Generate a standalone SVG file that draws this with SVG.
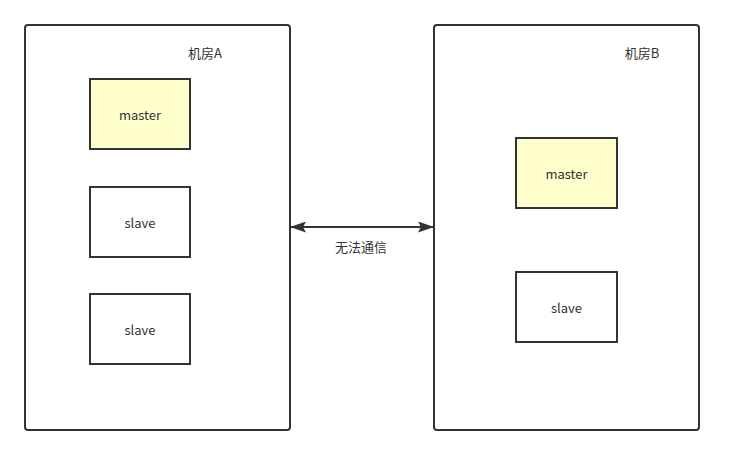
<svg xmlns="http://www.w3.org/2000/svg" width="747" height="455" viewBox="0 0 747 455">
  <defs>
    <style>
      .room { fill: #ffffff; stroke: #333333; stroke-width: 2; }
      .box { stroke: #333333; stroke-width: 2; }
      .master { fill: #ffffcc; }
      .slave { fill: #ffffff; }
      .label { font-family: "Noto Sans CJK SC", "Liberation Sans", sans-serif; font-size: 13px; fill: #333333; text-anchor: middle; }
      .link { stroke: #333333; stroke-width: 2; fill: none; }
    </style>
    <marker id="arrowhead" viewBox="0 0 16 11" refX="15" refY="5.5" markerWidth="16" markerHeight="11" orient="auto-start-reverse" markerUnits="userSpaceOnUse">
      <path d="M0,0 L16,5.5 L0,11 L3,5.5 Z" fill="#333333"/>
    </marker>
  </defs>
  <rect width="747" height="455" fill="#ffffff"/>

  <!-- data center A -->
  <g id="roomA">
    <rect class="room" x="25" y="25" width="265" height="405" rx="3" ry="3"/>
    <text class="label" x="205" y="58">机房A</text>
  </g>
  <g id="masterA">
    <rect class="box master" x="90" y="79" width="100" height="70"/>
    <text class="label" x="140" y="119.5">master</text>
  </g>
  <g id="slaveA1">
    <rect class="box slave" x="90" y="187" width="100" height="70"/>
    <text class="label" x="140" y="227.5">slave</text>
  </g>
  <g id="slaveA2">
    <rect class="box slave" x="90" y="294" width="100" height="70"/>
    <text class="label" x="140" y="334.5">slave</text>
  </g>

  <!-- data center B -->
  <g id="roomB">
    <rect class="room" x="434" y="25" width="265" height="405" rx="3" ry="3"/>
    <text class="label" x="642" y="58">机房B</text>
  </g>
  <g id="masterB">
    <rect class="box master" x="516" y="138" width="101" height="70"/>
    <text class="label" x="566.5" y="178.5">master</text>
  </g>
  <g id="slaveB">
    <rect class="box slave" x="516" y="272" width="101" height="70"/>
    <text class="label" x="566.5" y="312.5">slave</text>
  </g>

  <!-- link between the two rooms -->
  <g id="connectors">
    <line class="link" x1="291" y1="227" x2="433" y2="227" marker-start="url(#arrowhead)" marker-end="url(#arrowhead)"/>
    <text class="label" x="361" y="252">无法通信</text>
  </g>
</svg>
